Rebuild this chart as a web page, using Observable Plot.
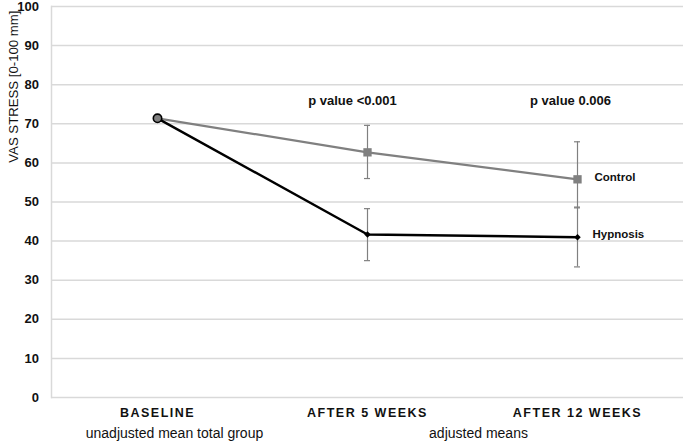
<!DOCTYPE html>
<html>
<head>
<meta charset="utf-8">
<script src="https://cdn.jsdelivr.net/npm/d3@7"></script>
<script src="https://cdn.jsdelivr.net/npm/@observablehq/plot@0.6"></script>
<style>
  html, body { margin: 0; padding: 0; background: #fff; }
  #chart svg g[aria-label="x-axis tick label"] text { letter-spacing: 1.5px; }
</style>
</head>
<body>
<div id="chart"></div>
<script>
// ---- data ----
const periods = ["BASELINE", "AFTER 5 WEEKS", "AFTER 12 WEEKS"];
const subLabels = ["unadjusted mean total group", "adjusted means"];
const yTicks = [0, 10, 20, 30, 40, 50, 60, 70, 80, 90, 100];

const controlMean = [71.4, 62.7, 55.8];
const controlLow  = [null, 56.0, 48.5];
const controlHigh = [null, 69.6, 65.4];

const hypnosisMean = [71.4, 41.7, 41.0];
const hypnosisLow  = [null, 35.0, 33.4];
const hypnosisHigh = [null, 48.3, 48.7];

const pValues = ["p value <0.001", "p value 0.006"];
const pValueY = 76;
const seriesNames = ["Control", "Hypnosis"];
const yLabel = "VAS STRESS [0-100 mm]";

// ---- build tables ----
const rows = (means, lows, highs, group) =>
  periods.map((p, i) => ({period: p, mean: means[i], low: lows[i], high: highs[i], group}));
const control = rows(controlMean, controlLow, controlHigh, seriesNames[0]);
const hypnosis = rows(hypnosisMean, hypnosisLow, hypnosisHigh, seriesNames[1]);
const errs = [...control, ...hypnosis].filter(d => d.low != null);

const ink = "#111";
const gray = "#808080";

const chart = Plot.plot({
  width: 685,
  height: 442,
  marginLeft: 51,
  marginRight: 2,
  marginTop: 6,
  marginBottom: 45,
  style: {fontFamily: "'Liberation Sans', Arial, sans-serif", background: "#fff", color: ink},
  x: {type: "point", domain: periods, padding: 0.5},
  y: {domain: [0, 100]},
  marks: [
    Plot.ruleY(yTicks, {stroke: "#d9d9d9", strokeWidth: 1.5}),
    Plot.frame({anchor: "left", stroke: "#d9d9d9", strokeWidth: 1.5}),
    Plot.axisY({ticks: yTicks, tickSize: 0, tickPadding: 12.5, fontSize: 13, fontWeight: "bold", label: null}),
    Plot.axisX({tickSize: 0, tickPadding: 10.5, fontSize: 12.5, fontWeight: "bold", label: null}),
    // second line of x labels
    Plot.text([subLabels[0]], {x: () => periods[0], frameAnchor: "bottom", dy: 36, dx: 17,
      fontSize: 14, fill: ink, lineAnchor: "middle"}),
    Plot.text([subLabels[1]], {x: () => periods[1], frameAnchor: "bottom", dy: 36, dx: 111,
      fontSize: 14, fill: ink, lineAnchor: "middle"}),
    // y label
    Plot.text([yLabel], {frameAnchor: "top-left", rotate: -90, textAnchor: "end", dx: -43, dy: 4,
      fontSize: 13.2, fill: ink}),
    // error bars
    Plot.ruleX(errs, {x: "period", y1: "low", y2: "high", stroke: gray, strokeWidth: 1.2}),
    Plot.ruleY(errs, {y: "low", x1: "period", x2: "period", insetLeft: -3, insetRight: -3, stroke: gray, strokeWidth: 1.2}),
    Plot.ruleY(errs, {y: "high", x1: "period", x2: "period", insetLeft: -3, insetRight: -3, stroke: gray, strokeWidth: 1.2}),
    // lines
    Plot.line(control, {x: "period", y: "mean", stroke: gray, strokeWidth: 2.2}),
    Plot.line(hypnosis, {x: "period", y: "mean", stroke: "#000", strokeWidth: 2.4}),
    // markers
    Plot.dot(control.filter(d => d.low != null), {x: "period", y: "mean", symbol: "square", r: 4.7, fill: gray}),
    Plot.dot(hypnosis.filter(d => d.low != null), {x: "period", y: "mean", symbol: "diamond2", r: 2.9, fill: "#000"}),
    Plot.dot(control.filter(d => d.low == null), {x: "period", y: "mean", r: 4.2, fill: gray, stroke: "#000", strokeWidth: 1.6}),
    // p values
    Plot.text([pValues[0]], {x: () => periods[1], y: () => pValueY, dx: -15, fontSize: 13, fontWeight: "bold", fill: ink}),
    Plot.text([pValues[1]], {x: () => periods[2], y: () => pValueY, dx: -7, fontSize: 13, fontWeight: "bold", fill: ink}),
    // series labels
    Plot.text([control[2]], {x: "period", y: "mean", text: d => d.group, dx: 17, dy: -2, textAnchor: "start",
      fontSize: 11.5, fontWeight: "bold", fill: ink}),
    Plot.text([hypnosis[2]], {x: "period", y: "mean", text: d => d.group, dx: 15, dy: -3, textAnchor: "start",
      fontSize: 11.5, fontWeight: "bold", fill: ink})
  ]
});
document.getElementById("chart").appendChild(chart);
</script>
</body>
</html>
